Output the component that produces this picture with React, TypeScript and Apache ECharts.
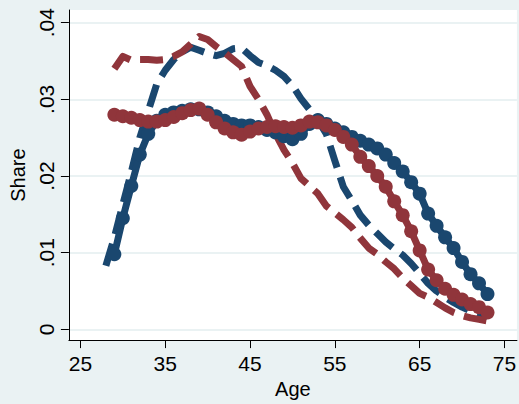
import React, { useEffect, useRef } from "react";
import * as echarts from "echarts";

// Ages (x values) for each series
const agesBlueDash = [28, 29, 30, 31, 32, 33, 34, 35, 36, 37, 38, 39, 40, 41, 42, 43, 44, 45, 46, 47, 48, 49, 50, 51, 52, 53, 54, 55, 56, 57, 58, 59, 60, 61, 62, 63, 64, 65, 66, 67, 68, 69, 70, 71, 72, 73];
const agesRest = [29, 30, 31, 32, 33, 34, 35, 36, 37, 38, 39, 40, 41, 42, 43, 44, 45, 46, 47, 48, 49, 50, 51, 52, 53, 54, 55, 56, 57, 58, 59, 60, 61, 62, 63, 64, 65, 66, 67, 68, 69, 70, 71, 72, 73];

// Blue dashed (ages 28-73)
const blueDash = [
  0.0083, 0.0120, 0.0163, 0.0205, 0.0250, 0.0285, 0.0320, 0.0338, 0.0352, 0.0362,
  0.0368, 0.0364, 0.0360, 0.0357, 0.0360, 0.0366, 0.0367, 0.0357, 0.0348, 0.0344,
  0.0338, 0.0330, 0.0318, 0.0301, 0.0287, 0.0273, 0.0255, 0.0220, 0.0186, 0.0168,
  0.0149, 0.0136, 0.0125, 0.0114, 0.0105, 0.0097, 0.0086, 0.0073, 0.0060, 0.0050,
  0.0042, 0.0035, 0.0029, 0.0024, 0.0020, 0.0017,
];

// Red dashed (ages 29-73)
const redDash = [
  0.0340, 0.0356, 0.0351, 0.0352, 0.0352, 0.0351, 0.0352, 0.0356, 0.0362, 0.0372,
  0.0382, 0.0378, 0.0369, 0.0361, 0.0352, 0.0343, 0.0317, 0.0300, 0.0280, 0.0255,
  0.0234, 0.0217, 0.0197, 0.0187, 0.0177, 0.0161, 0.0152, 0.0143, 0.0133, 0.0119,
  0.0106, 0.0098, 0.0088, 0.0079, 0.0067, 0.0057, 0.0047, 0.0042, 0.0035, 0.0028,
  0.0022, 0.0018, 0.0015, 0.0013, 0.0011,
];

// Blue solid with circles (ages 29-73)
const blueSolid = [
  0.0098, 0.0145, 0.0187, 0.0228, 0.0255, 0.0272, 0.0280, 0.0283, 0.0285, 0.0287,
  0.0287, 0.0283, 0.0278, 0.0272, 0.0268, 0.0266, 0.0266, 0.0264, 0.0260, 0.0257,
  0.0252, 0.0248, 0.0255, 0.0268, 0.0273, 0.0268, 0.0262, 0.0257, 0.0251, 0.0246,
  0.0241, 0.0236, 0.0228, 0.0217, 0.0206, 0.0192, 0.0177, 0.0151, 0.0135, 0.0120,
  0.0106, 0.0088, 0.0072, 0.0060, 0.0046,
];

// Red solid with circles (ages 29-73)
const redSolid = [
  0.0280, 0.0278, 0.0276, 0.0273, 0.0271, 0.0271, 0.0273, 0.0277, 0.0282, 0.0286,
  0.0288, 0.0280, 0.0270, 0.0262, 0.0257, 0.0254, 0.0258, 0.0262, 0.0264, 0.0265,
  0.0264, 0.0263, 0.0266, 0.0271, 0.0270, 0.0266, 0.0260, 0.0251, 0.0241, 0.0225,
  0.0213, 0.0200, 0.0186, 0.0167, 0.0149, 0.0128, 0.0103, 0.0078, 0.0064, 0.0053,
  0.0045, 0.0039, 0.0033, 0.0029, 0.0022,
];

const xTickValues = [25, 35, 45, 55, 65, 75];
const yTickValues = [0, 0.01, 0.02, 0.03, 0.04];
const yTickLabels = ["0", ".01", ".02", ".03", ".04"];

const NAVY = "#1a476f";
const MAROON = "#90353b";
const BG = "#eaf2f3";
const FONT = "'Liberation Sans', Arial, Helvetica, sans-serif";

function pairs(ages: number[], vals: number[]) {
  return ages.map((a, i) => [a, vals[i]]);
}

export default function App() {
  const ref = useRef<HTMLDivElement>(null);
  useEffect(() => {
    if (!ref.current) return;
    const chart = echarts.init(ref.current, undefined, { renderer: "svg" });
    const dashStyle = (color: string) => ({
      color,
      width: 7,
      type: [23, 10] as any,
      cap: "butt" as const,
      join: "round" as const,
    });
    chart.setOption({
      animation: false,
      backgroundColor: BG,
      grid: {
        left: 64,
        top: 10,
        right: 0,
        bottom: 56,
        show: true,
        backgroundColor: "#ffffff",
        borderWidth: 0,
        containLabel: false,
      },
      xAxis: {
        type: "value",
        min: 23.64,
        max: 76.47,
        name: "Age",
        nameLocation: "middle",
        nameGap: 31,
        nameTextStyle: { fontSize: 20, color: "#000", fontFamily: FONT },
        axisLine: { show: true, onZero: false, lineStyle: { color: "#000", width: 1 } },
        axisTick: { show: true, length: 8, lineStyle: { color: "#000", width: 1 }, customValues: xTickValues },
        axisLabel: {
          customValues: xTickValues,
          fontSize: 21,
          color: "#000",
          fontFamily: FONT,
          margin: 13,
          formatter: (v: number) => String(v),
        },
        splitLine: { show: false },
      },
      yAxis: {
        type: "value",
        min: -0.0014,
        max: 0.041656,
        name: "Share",
        nameLocation: "middle",
        nameGap: 33,
        nameTextStyle: { fontSize: 20, color: "#000", fontFamily: FONT },
        axisLine: { show: true, onZero: false, lineStyle: { color: "#000", width: 1 } },
        axisTick: { show: true, length: 8, lineStyle: { color: "#000", width: 1 }, customValues: yTickValues },
        axisLabel: {
          customValues: yTickValues,
          rotate: 90,
          fontSize: 21,
          color: "#000",
          fontFamily: FONT,
          margin: 12,
          formatter: (v: number) => {
            let best = 0;
            for (let i = 0; i < yTickValues.length; i++) {
              if (Math.abs(yTickValues[i] - v) < Math.abs(yTickValues[best] - v)) best = i;
            }
            return yTickLabels[best];
          },
        },
        splitLine: { show: true, lineStyle: { color: BG, width: 2 } },
      },
      series: [
        {
          type: "line",
          data: pairs(agesBlueDash, blueDash),
          symbol: "none",
          lineStyle: dashStyle(NAVY),
          silent: true,
        },
        {
          type: "line",
          data: pairs(agesRest, redDash),
          symbol: "none",
          lineStyle: dashStyle(MAROON),
          silent: true,
        },
        {
          type: "line",
          data: pairs(agesRest, blueSolid),
          symbol: "circle",
          symbolSize: 14,
          itemStyle: { color: NAVY },
          lineStyle: { color: NAVY, width: 7 },
          silent: true,
        },
        {
          type: "line",
          data: pairs(agesRest, redSolid),
          symbol: "circle",
          symbolSize: 14,
          itemStyle: { color: MAROON },
          lineStyle: { color: MAROON, width: 7 },
          silent: true,
        },
      ],
    });
    return () => chart.dispose();
  }, []);
  return (
    <div
      ref={ref}
      style={{ position: "fixed", left: 0, top: 0, width: 519, height: 404 }}
    />
  );
}
